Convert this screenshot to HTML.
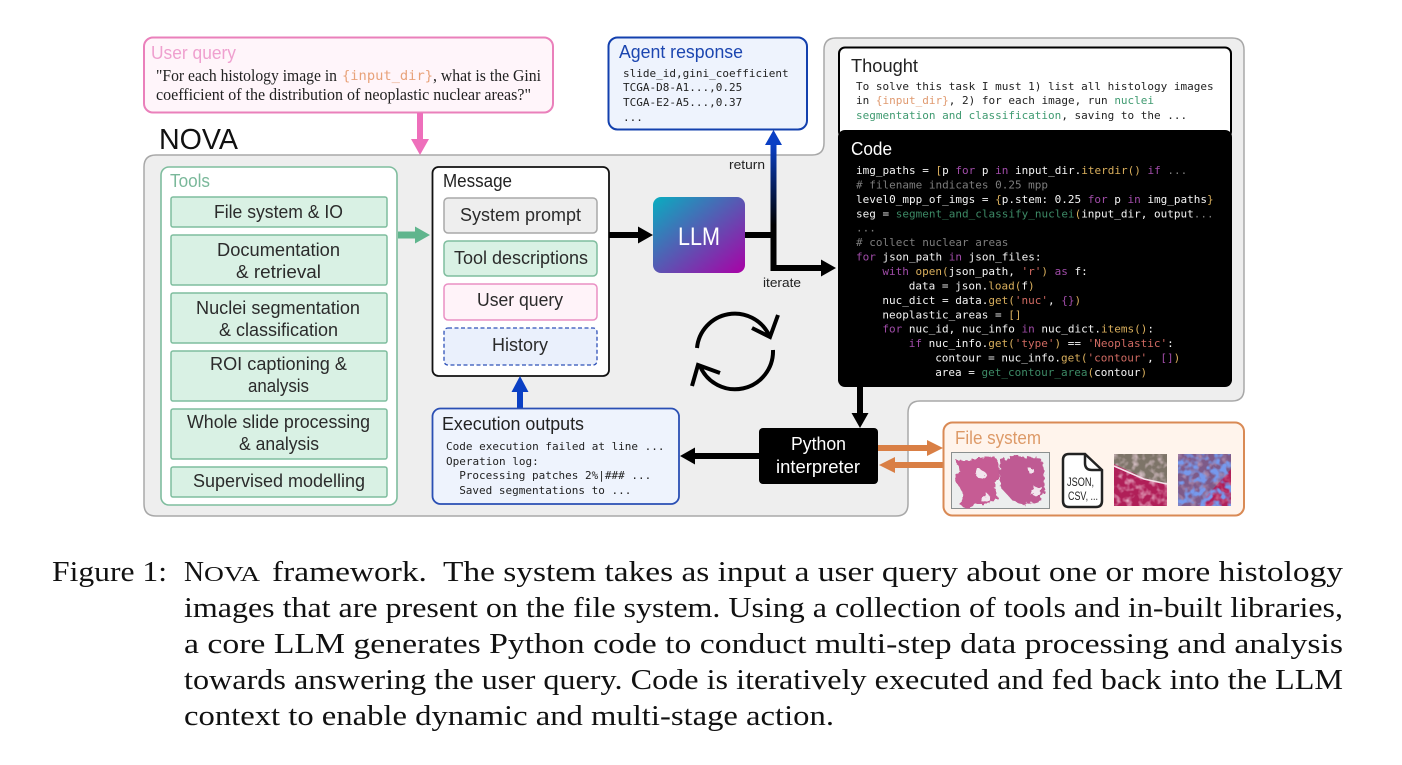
<!DOCTYPE html>
<html><head><meta charset="utf-8"><style>
html,body{margin:0;padding:0;background:#fff;width:1402px;height:765px;overflow:hidden}
svg{display:block}
text{font-family:"Liberation Sans",sans-serif;fill:#2b2b2b}
.m text,text.m{font-family:"DejaVu Sans Mono",monospace;font-size:11px;fill:#222}
.c text{font-family:"DejaVu Sans Mono",monospace;font-size:11px;fill:#f4f4f4}
.k{fill:#a04ca8}.f{fill:#d8ae5c}.s{fill:#cf6a62}.c text.g,.g{fill:#7d7d7d}.n{fill:#3f9a70}.c .n{fill:#3d8a66}.o{fill:#e09a70}
.t{font-size:18px}.cap{font-family:"Liberation Serif",serif;font-size:28.500px;fill:#111}
</style></head><body>
<svg width="1402" height="765" viewBox="0 0 1402 765" xmlns="http://www.w3.org/2000/svg">
<defs>
<linearGradient id="llm" x1="0" y1="0" x2="1" y2="1"><stop offset="0" stop-color="#08aec0"/><stop offset="1" stop-color="#aa00a6"/></linearGradient>
<linearGradient id="ret" gradientUnits="userSpaceOnUse" x1="0" y1="145" x2="0" y2="225"><stop offset="0" stop-color="#0a3fc4"/><stop offset="1" stop-color="#000"/></linearGradient>
<filter id="n1" x="0" y="0" width="100%" height="100%"><feTurbulence type="fractalNoise" baseFrequency="0.16" numOctaves="2" seed="4"/><feColorMatrix values="0 0 0 0 0.95  0 0 0 0 0.72  0 0 0 0 0.82  2.400 0 0 0 -1.050"/></filter>
<filter id="n2" x="0" y="0" width="100%" height="100%"><feTurbulence type="fractalNoise" baseFrequency="0.14" numOctaves="2" seed="9"/><feColorMatrix values="0 0 0 0 0.18  0 0 0 0 0.32  0 0 0 0 0.85  4 0 0 0 -1.750"/></filter>
<filter id="d" x="-10%" y="-10%" width="120%" height="120%"><feTurbulence type="fractalNoise" baseFrequency="0.2" numOctaves="2" seed="3"/><feDisplacementMap in="SourceGraphic" scale="7"/></filter>
</defs>

<!-- panel -->
<path d="M156 155H812Q824 155 824 143V50Q824 38 836 38H1232Q1244 38 1244 50V389Q1244 401 1232 401H920Q908 401 908 413V504Q908 516 896 516H156Q144 516 144 504V167Q144 155 156 155Z" fill="#eeeeee" stroke="#a8a8a8" stroke-width="1.500"/>

<!-- user query -->
<rect x="144" y="37.500" width="409" height="75" rx="9" fill="#fff5fa" stroke="#ea80bb" stroke-width="2"/>
<text x="151" y="59" class="t" style="fill:#efa0cf" textLength="85" lengthAdjust="spacingAndGlyphs">User query</text>
<text x="156" y="81" style="font-family:'Liberation Serif',serif;font-size:16.500px;fill:#222" textLength="181" lengthAdjust="spacingAndGlyphs">"For each histology image in</text>
<text x="342" y="80" style="font-family:'DejaVu Sans Mono',monospace;font-size:13.500px;fill:#e8a27a" textLength="91" lengthAdjust="spacingAndGlyphs">{input_dir}</text>
<text x="433" y="81" style="font-family:'Liberation Serif',serif;font-size:16.500px;fill:#222" textLength="108" lengthAdjust="spacingAndGlyphs">, what is the Gini</text>
<text x="156" y="100" style="font-family:'Liberation Serif',serif;font-size:16.500px;fill:#222" textLength="375" lengthAdjust="spacingAndGlyphs">coefficient of the distribution of neoplastic nuclear areas?"</text>
<path d="M417 113H423V139H429L420 155L411 139H417Z" fill="#ee6fbb"/>
<text x="159" y="149" style="font-size:28.500px;fill:#111" textLength="79" lengthAdjust="spacingAndGlyphs">NOVA</text>

<!-- agent response -->
<rect x="608.500" y="37.500" width="198.500" height="92" rx="9" fill="#eef3fd" stroke="#1340ae" stroke-width="2"/>
<text x="619" y="58" class="t" style="fill:#1c46b0" textLength="124" lengthAdjust="spacingAndGlyphs">Agent response</text>
<g class="m"><text x="623" y="77">slide_id,gini_coefficient</text><text x="623" y="91">TCGA-D8-A1...,0.25</text><text x="623" y="106">TCGA-E2-A5...,0.37</text><text x="623" y="121">...</text></g>

<!-- tools -->
<rect x="161" y="167" width="236" height="338" rx="8" fill="#fff" stroke="#7fbd9e" stroke-width="1.600"/>
<text x="170" y="187" class="t" style="fill:#7ab89a" textLength="40" lengthAdjust="spacingAndGlyphs">Tools</text>
<g fill="#d9f1e4" stroke="#7fbd9e" stroke-width="1.500">
<rect x="171" y="197" width="216" height="30" rx="2"/>
<rect x="171" y="235" width="216" height="50" rx="2"/>
<rect x="171" y="293" width="216" height="50" rx="2"/>
<rect x="171" y="351" width="216" height="50" rx="2"/>
<rect x="171" y="409" width="216" height="50" rx="2"/>
<rect x="171" y="467" width="216" height="30" rx="2"/>
</g>
<text x="214" y="218" class="t" textLength="129" lengthAdjust="spacingAndGlyphs">File system &amp; IO</text>
<text x="217" y="256" class="t" textLength="123" lengthAdjust="spacingAndGlyphs">Documentation</text>
<text x="236" y="278" class="t" textLength="85" lengthAdjust="spacingAndGlyphs">&amp; retrieval</text>
<text x="196" y="314" class="t" textLength="164" lengthAdjust="spacingAndGlyphs">Nuclei segmentation</text>
<text x="219" y="336" class="t" textLength="119" lengthAdjust="spacingAndGlyphs">&amp; classification</text>
<text x="210" y="370" class="t" textLength="137" lengthAdjust="spacingAndGlyphs">ROI captioning &amp;</text>
<text x="248" y="392" class="t" textLength="61" lengthAdjust="spacingAndGlyphs">analysis</text>
<text x="187" y="428" class="t" textLength="183" lengthAdjust="spacingAndGlyphs">Whole slide processing</text>
<text x="239" y="450" class="t" textLength="80" lengthAdjust="spacingAndGlyphs">&amp; analysis</text>
<text x="193" y="487" class="t" textLength="172" lengthAdjust="spacingAndGlyphs">Supervised modelling</text>
<path d="M398 231.500H415V226.500L430 235L415 243.500V238.500H398Z" fill="#5fb58d"/>

<!-- message -->
<rect x="432.500" y="167" width="176.500" height="209" rx="6" fill="#fff" stroke="#111" stroke-width="1.800"/>
<text x="443" y="187" class="t" style="fill:#222" textLength="69" lengthAdjust="spacingAndGlyphs">Message</text>
<rect x="444" y="198" width="153" height="35" rx="4" fill="#eeeeee" stroke="#a8a8a8" stroke-width="1.500"/>
<rect x="444" y="241" width="153" height="35" rx="4" fill="#d9f1e4" stroke="#7fbd9e" stroke-width="1.500"/>
<rect x="444" y="284" width="153" height="36" rx="4" fill="#fff3f9" stroke="#ea90c4" stroke-width="1.500"/>
<rect x="444" y="328" width="153" height="37" rx="4" fill="#eaf0fc" stroke="#2f52b8" stroke-width="1.300" stroke-dasharray="4 2.500"/>
<text x="460" y="221" class="t" textLength="121" lengthAdjust="spacingAndGlyphs">System prompt</text>
<text x="454" y="264" class="t" textLength="134" lengthAdjust="spacingAndGlyphs">Tool descriptions</text>
<text x="477" y="306" class="t" textLength="86" lengthAdjust="spacingAndGlyphs">User query</text>
<text x="492" y="351" class="t" textLength="56" lengthAdjust="spacingAndGlyphs">History</text>

<!-- LLM -->
<path d="M609 232H638V226.500L653 235L638 243.500V238H609Z" fill="#000"/>
<rect x="653" y="197" width="92" height="76" rx="8" fill="url(#llm)"/>
<text x="678" y="245" style="font-size:25px;fill:#fff" textLength="42" lengthAdjust="spacingAndGlyphs">LLM</text>
<rect x="745" y="232" width="30" height="6" fill="#000"/>
<path d="M770.500 145H765L773.500 130L782 145H776.500V235H770.500Z" fill="url(#ret)"/>
<path d="M770.500 235H776.500V265H821V259.500L836 268L821 276.500V271H770.500Z" fill="#000"/>
<text x="729" y="169" style="font-size:13px;fill:#222" textLength="36" lengthAdjust="spacingAndGlyphs">return</text>
<text x="763" y="287" style="font-size:13px;fill:#222" textLength="38" lengthAdjust="spacingAndGlyphs">iterate</text>

<!-- sync -->
<g fill="none" stroke="#000" stroke-width="4">
<path d="M697 348A38 38 0 0 1 769 335"/>
<path d="M778 315L770 337L752 328"/>
<path d="M773 350A38 38 0 0 1 700 366"/>
<path d="M692 386L698 365L720 373"/>
</g>

<!-- thought -->
<rect x="839" y="47.500" width="392" height="90" rx="6" fill="#fff" stroke="#000" stroke-width="2"/>
<text x="851" y="72" class="t" style="fill:#222" textLength="67" lengthAdjust="spacingAndGlyphs">Thought</text>
<g class="m">
<text x="856" y="90">To solve this task I must 1) list all histology images</text>
<text x="856" y="104">in <tspan class="o">{input_dir}</tspan>, 2) for each image, run <tspan class="n">nuclei</tspan></text>
<text x="856" y="119"><tspan class="n">segmentation and classification</tspan>, saving to the ...</text>
</g>

<!-- code -->
<rect x="838" y="130" width="394" height="257" rx="7" fill="#000"/>
<text x="851" y="155" class="t" style="fill:#fff" textLength="41" lengthAdjust="spacingAndGlyphs">Code</text>
<g class="c">
<text x="856" y="174">img_paths = <tspan class="f">[</tspan>p <tspan class="k">for</tspan> p <tspan class="k">in</tspan> input_dir.<tspan class="f">iterdir()</tspan> <tspan class="k">if</tspan> <tspan class="g">...</tspan></text>
<text x="856" y="188.400" class="g"># filename indicates 0.25 mpp</text>
<text x="856" y="202.900">level0_mpp_of_imgs = <tspan class="f">{</tspan>p.stem: 0.25 <tspan class="k">for</tspan> p <tspan class="k">in</tspan> img_paths<tspan class="f">}</tspan></text>
<text x="856" y="217.300">seg = <tspan class="n">segment_and_classify_nuclei</tspan><tspan class="f">(</tspan>input_dir, output<tspan class="g">...</tspan></text>
<text x="856" y="231.700" class="g">...</text>
<text x="856" y="246.100" class="g"># collect nuclear areas</text>
<text x="856" y="260.600"><tspan class="k">for</tspan> json_path <tspan class="k">in</tspan> json_files:</text>
<text x="882.400" y="275"><tspan class="k">with</tspan> <tspan class="f">open(</tspan>json_path, <tspan class="s">'r'</tspan><tspan class="f">)</tspan> <tspan class="k">as</tspan> f:</text>
<text x="908.800" y="289.400">data = json.<tspan class="f">load(</tspan>f<tspan class="f">)</tspan></text>
<text x="882.400" y="303.900">nuc_dict = data.<tspan class="f">get(</tspan><tspan class="s">'nuc'</tspan>, <tspan class="k">{}</tspan><tspan class="f">)</tspan></text>
<text x="882.400" y="318.300">neoplastic_areas = <tspan class="f">[]</tspan></text>
<text x="882.400" y="332.700"><tspan class="k">for</tspan> nuc_id, nuc_info <tspan class="k">in</tspan> nuc_dict.<tspan class="f">items()</tspan>:</text>
<text x="908.800" y="347.100"><tspan class="k">if</tspan> nuc_info.<tspan class="f">get(</tspan><tspan class="s">'type'</tspan><tspan class="f">)</tspan> == <tspan class="s">'Neoplastic'</tspan>:</text>
<text x="935.200" y="361.600">contour = nuc_info.<tspan class="f">get(</tspan><tspan class="s">'contour'</tspan>, <tspan class="k">[]</tspan><tspan class="f">)</tspan></text>
<text x="935.200" y="376">area = <tspan class="n">get_contour_area</tspan><tspan class="f">(</tspan>contour<tspan class="f">)</tspan></text>
</g>

<!-- execution -->
<path d="M517 408V392H511.500L520 376L528.500 392H523V408Z" fill="#0a3fc4"/>
<rect x="432.500" y="408.500" width="246.500" height="95.500" rx="8" fill="#eef3fd" stroke="#2a4fb4" stroke-width="1.800"/>
<text x="442" y="430" class="t" style="fill:#222" textLength="142" lengthAdjust="spacingAndGlyphs">Execution outputs</text>
<g class="m">
<text x="446" y="450">Code execution failed at line ...</text>
<text x="446" y="465">Operation log:</text>
<text x="459.200" y="479">Processing patches 2%|### ...</text>
<text x="459.200" y="494">Saved segmentations to ...</text>
</g>

<!-- python -->
<path d="M857 387H863V413H868.500L860 428L851.500 413H857Z" fill="#000"/>
<rect x="759" y="428" width="119" height="56" rx="4" fill="#000"/>
<text x="791" y="450" class="t" style="fill:#fff" textLength="55" lengthAdjust="spacingAndGlyphs">Python</text>
<text x="776" y="473" class="t" style="fill:#fff" textLength="84" lengthAdjust="spacingAndGlyphs">interpreter</text>
<path d="M759 453H695V447.500L680 456L695 464.500V459H759Z" fill="#000"/>

<!-- file system -->
<path d="M878 445H927V440L943 448L927 456V451H878Z" fill="#d97f45"/>
<path d="M944 462H895V457L879 465L895 473V468H944Z" fill="#d97f45"/>
<rect x="943.500" y="422.500" width="300.500" height="93" rx="9" fill="#fff4ec" stroke="#d98a55" stroke-width="2"/>
<text x="955" y="444" class="t" style="fill:#dd9a68" textLength="86" lengthAdjust="spacingAndGlyphs">File system</text>

<rect x="951.500" y="452.500" width="98" height="56" fill="#eceeee" stroke="#8a8f8f" stroke-width="1"/>
<g filter="url(#d)">
<path d="M956 460L972 461L978 457L996 458L1000 472L995 488L998 498L988 504L973 504L970 509L960 505L962 492L955 480L960 472Z" fill="#c65c94"/>
<path d="M1001 460L1015 456L1040 458L1044 470L1045 490L1042 500L1025 505L1012 500L1001 488L999 472Z" fill="#bf5a93"/>
<path d="M979 468l7 5l-3 6l-7-3zM1034 486l8 1l-2 8l-9 0zM981 496l8-1l2 6l-9 1zM1028 468l5 0l1 5l-5 0z" fill="#f2e6ee"/>
</g>

<path d="M1069 454H1085L1102 470V501Q1102 507 1096 507H1069Q1063 507 1063 501V460Q1063 454 1069 454Z" fill="#fff" stroke="#222" stroke-width="2.500"/>
<path d="M1085 454V463Q1085 470 1092 470H1102" fill="none" stroke="#222" stroke-width="2.500"/>
<text x="1067" y="486" style="font-size:12px;fill:#222" textLength="27" lengthAdjust="spacingAndGlyphs">JSON,</text>
<text x="1068" y="500" style="font-size:12px;fill:#222" textLength="30" lengthAdjust="spacingAndGlyphs">CSV, ...</text>

<svg x="1114" y="454" width="53" height="52" viewBox="0 0 53 52">
<rect width="53" height="52" fill="#b01f58"/>
<path d="M0 0H53V30L30 24L0 10Z" fill="#7d7468"/>
<rect width="53" height="52" filter="url(#n1)" opacity=".7"/>
<path d="M0 12L30 25L53 30" fill="none" stroke="#f3e3ea" stroke-width="1.500"/>
</svg>
<svg x="1178" y="454" width="53" height="52" viewBox="0 0 53 52">
<rect width="53" height="52" fill="#7e5a88"/>
<path d="M53 15V52H20Z" fill="#b01f58"/>
<rect width="53" height="52" filter="url(#n1)" opacity=".4"/>
<rect width="53" height="52" filter="url(#n2)"/>
</svg>

<!-- caption -->
<text x="52" y="581" class="cap" textLength="115" lengthAdjust="spacingAndGlyphs">Figure 1:</text>
<text x="184" y="581" class="cap" textLength="20" lengthAdjust="spacingAndGlyphs">N</text>
<text x="204" y="581" class="cap" style="font-size:21.500px" textLength="56" lengthAdjust="spacingAndGlyphs">OVA</text>
<text x="272" y="581" class="cap" textLength="1071" lengthAdjust="spacingAndGlyphs" style="white-space:pre">framework.  The system takes as input a user query about one or more histology</text>
<text x="184" y="617" class="cap" textLength="1159" lengthAdjust="spacingAndGlyphs">images that are present on the file system.  Using a collection of tools and in-built libraries,</text>
<text x="184" y="653" class="cap" textLength="1159" lengthAdjust="spacingAndGlyphs">a core LLM generates Python code to conduct multi-step data processing and analysis</text>
<text x="184" y="689" class="cap" textLength="1159" lengthAdjust="spacingAndGlyphs">towards answering the user query. Code is iteratively executed and fed back into the LLM</text>
<text x="184" y="725" class="cap" textLength="650" lengthAdjust="spacingAndGlyphs">context to enable dynamic and multi-stage action.</text>
</svg>
</body></html>
